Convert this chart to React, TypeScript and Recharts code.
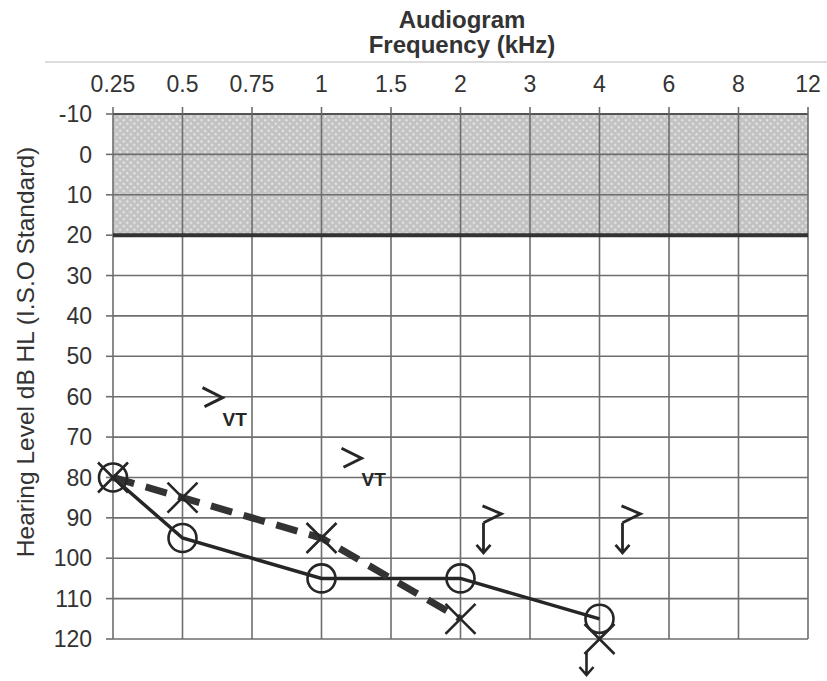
import React from 'react';
import { ComposedChart, Line, XAxis, YAxis, CartesianGrid, ReferenceLine } from 'recharts';

const freqLabels = ['0.25', '0.5', '0.75', '1', '1.5', '2', '3', '4', '6', '8', '12'];
const levelTicks = [-10, 0, 10, 20, 30, 40, 50, 60, 70, 80, 90, 100, 110, 120];
// Right ear air conduction (O)
const rightAC = [80, 95, null, 105, null, 105, null, 115, null, null, null];
// Left ear air conduction (X)
const leftAC = [80, 85, null, 95, null, 115, null, null, null, null, null];
// Left ear no response (X with arrow)
const leftNoResponse = [null, null, null, null, null, null, null, 120, null, null, null];
// Masked bone conduction, vibrotactile (> VT)
const maskedBoneVT = [null, 60, null, 75, null, null, null, null, null, null, null];
// Masked bone conduction, no response (> with arrow)
const maskedBoneNR = [null, null, null, null, null, 90, null, 90, null, null, null];
// Normal hearing band (shaded) spans the first three 10-dB bands: -10..20
const shadedBands = 3;

const data = freqLabels.map((f, i) => ({
  idx: i,
  freq: f,
  right: rightAC[i],
  left: leftAC[i],
  leftNR: leftNoResponse[i],
  bcVT: maskedBoneVT[i],
  bcNR: maskedBoneNR[i],
}));

const bandFills = levelTicks.slice(0, -1).map((_, i) => (i < shadedBands ? 'url(#hatch)' : 'none'));

const INK = '#262626';
const FONT = '"Liberation Sans", Arial, Helvetica, sans-serif';

const CircleDot = (props: any) => {
  const { cx, cy, value, index } = props;
  if (cx == null || cy == null || value == null) return <g key={`c${index}`} />;
  return <circle key={`c${index}`} cx={cx} cy={cy} r={14} fill="none" stroke={INK} strokeWidth={2.6} />;
};

const CrossDot = (props: any) => {
  const { cx, cy, value, index } = props;
  if (cx == null || cy == null || value == null) return <g key={`x${index}`} />;
  const s = 15;
  return (
    <path
      key={`x${index}`}
      d={`M${cx - s},${cy - s}L${cx + s},${cy + s}M${cx + s},${cy - s}L${cx - s},${cy + s}`}
      stroke={INK}
      strokeWidth={2.6}
      fill="none"
      strokeDasharray="none"
    />
  );
};

const CrossArrowDot = (props: any) => {
  const { cx, cy, value, index } = props;
  if (cx == null || cy == null || value == null) return <g key={`xa${index}`} />;
  const s = 15;
  const ax = cx - 13;
  return (
    <g key={`xa${index}`} stroke={INK} strokeWidth={2.6} fill="none">
      <path d={`M${cx - s},${cy - s}L${cx + s},${cy + s}M${cx + s},${cy - s}L${cx - s},${cy + s}`} />
      <path d={`M${ax},${cy + 13}L${ax},${cy + 36}M${ax - 7},${cy + 28}L${ax},${cy + 36}L${ax + 7},${cy + 28}`} />
    </g>
  );
};

const BoneVTDot = (props: any) => {
  const { cx, cy, value, index } = props;
  if (cx == null || cy == null || value == null) return <g key={`bv${index}`} />;
  const px = cx + 30;
  return (
    <g key={`bv${index}`}>
      <path d={`M${px - 10},${cy - 9}L${px + 10},${cy + 1}L${px - 8},${cy + 10}`} stroke={INK} strokeWidth={3} fill="none" />
      <text x={cx + 40} y={cy + 29} fontFamily={FONT} fontWeight="bold" fontSize={19} fill={INK}>VT</text>
    </g>
  );
};

const BoneNRDot = (props: any) => {
  const { cx, cy, value, index } = props;
  if (cx == null || cy == null || value == null) return <g key={`bn${index}`} />;
  const px = cx + 31;
  const py = cy - 4;
  const ax = cx + 23;
  return (
    <g key={`bn${index}`} stroke={INK} strokeWidth={2.8} fill="none">
      <path d={`M${px - 9},${py - 8}L${px + 10},${py}L${ax},${py + 9}`} />
      <path d={`M${ax},${py + 9}L${ax},${cy + 35}M${ax - 7},${cy + 27}L${ax},${cy + 35}L${ax + 7},${cy + 27}`} />
    </g>
  );
};

export default function App() {
  return (
    <div style={{ position: 'absolute', left: 0, top: 0, width: 827, height: 681, background: '#fff', fontFamily: FONT }}>
      <div style={{ position: 'absolute', left: 262, width: 400, top: 8, textAlign: 'center', fontSize: 24, lineHeight: '24px', fontWeight: 'bold', color: '#333' }}>
        Audiogram
      </div>
      <div style={{ position: 'absolute', left: 262, width: 400, top: 33, textAlign: 'center', fontSize: 24, lineHeight: '24px', fontWeight: 'bold', color: '#333' }}>
        Frequency (kHz)
      </div>
      <div style={{ position: 'absolute', left: 45, right: 0, top: 61, height: 2, background: '#dddddd' }} />
      <div
        style={{
          position: 'absolute',
          left: 26 - 250,
          top: 352 - 12,
          width: 500,
          height: 24,
          lineHeight: '24px',
          textAlign: 'center',
          fontSize: 24.5,
          color: '#333',
          transform: 'rotate(-90deg)',
          transformOrigin: '250px 12px',
          whiteSpace: 'nowrap',
        }}
      >
        Hearing Level dB HL (I.S.O Standard)
      </div>
      <div style={{ position: 'absolute', left: 0, top: 0 }}>
        <ComposedChart width={827} height={681} data={data} margin={{ top: 0, right: 19, bottom: 42, left: 0 }}>
          <defs>
            <pattern id="hatch" width="5" height="5" patternUnits="userSpaceOnUse" patternTransform="rotate(45)">
              <rect width="5" height="5" fill="#c2c2c2" />
              <circle cx="2.5" cy="2.5" r="1.1" fill="#f4f4f4" />
            </pattern>
          </defs>
          <CartesianGrid stroke="#6e6e6e" strokeWidth={1.6} horizontalFill={bandFills} fillOpacity={1} />
          <XAxis
            dataKey="idx"
            type="number"
            orientation="top"
            domain={[0, 10]}
            ticks={freqLabels.map((_, i) => i)}
            tickFormatter={(v: number) => freqLabels[v]}
            height={114}
            tickSize={7}
            tickMargin={15}
            axisLine={{ stroke: '#555', strokeWidth: 2 }}
            tickLine={{ stroke: '#6e6e6e', strokeWidth: 1.6 }}
            tick={{ fill: '#333', fontSize: 23, fontFamily: FONT }}
            interval={0}
          />
          <YAxis
            type="number"
            domain={[-10, 120]}
            ticks={levelTicks}
            reversed
            width={113}
            tickSize={7}
            tickMargin={14}
            axisLine={false}
            tickLine={{ stroke: '#6e6e6e', strokeWidth: 1.6 }}
            tick={{ fill: '#333', fontSize: 23, fontFamily: FONT }}
            interval={0}
          />
          <ReferenceLine y={20} stroke="#333" strokeWidth={4} />
          <Line dataKey="right" type="linear" stroke={INK} strokeWidth={3.5} connectNulls dot={CircleDot} activeDot={false} isAnimationActive={false} />
          <Line dataKey="left" type="linear" stroke="#333" strokeWidth={7} strokeDasharray="22 12" connectNulls dot={CrossDot} activeDot={false} isAnimationActive={false} />
          <Line dataKey="leftNR" stroke="none" dot={CrossArrowDot} activeDot={false} isAnimationActive={false} />
          <Line dataKey="bcVT" stroke="none" dot={BoneVTDot} activeDot={false} isAnimationActive={false} />
          <Line dataKey="bcNR" stroke="none" dot={BoneNRDot} activeDot={false} isAnimationActive={false} />
        </ComposedChart>
      </div>
    </div>
  );
}
